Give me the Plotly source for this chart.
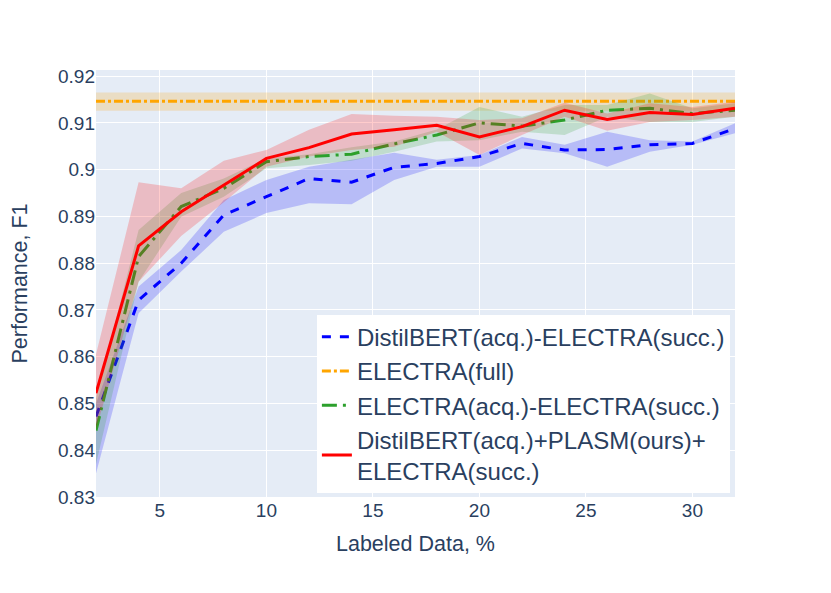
import plotly.graph_objects as go

labeled_pct = [2, 4, 6, 8, 10, 12, 14, 16, 18, 20, 22, 24, 26, 28, 30, 32]

distil_mean = [0.8472, 0.8721, 0.8800, 0.8903, 0.8942, 0.8981, 0.8973, 0.9005,
               0.9013, 0.9028, 0.9056, 0.9042, 0.9043, 0.9053, 0.9056, 0.9088]
distil_upper = [0.8500, 0.8750, 0.8828, 0.8935, 0.8978, 0.9006, 0.9021, 0.9036,
                0.9021, 0.9031, 0.9070, 0.9053, 0.9081, 0.9063, 0.9060, 0.9099]
distil_lower = [0.8350, 0.8693, 0.8782, 0.8867, 0.8907, 0.8928, 0.8926, 0.8978,
                0.9006, 0.9006, 0.9045, 0.9035, 0.9006, 0.9038, 0.9053, 0.9078]

full_x = [2, 32]
full_mean = [0.9146, 0.9146]
full_upper = [0.9165, 0.9165]
full_lower = [0.9126, 0.9126]

electra_mean = [0.8442, 0.8814, 0.8921, 0.8960, 0.9017, 0.9028, 0.9033, 0.9055,
                0.9074, 0.9100, 0.9093, 0.9106, 0.9127, 0.9131, 0.9120, 0.9127]
electra_upper = [0.8510, 0.8871, 0.8950, 0.8981, 0.9024, 0.9033, 0.9048, 0.9060,
                 0.9086, 0.9134, 0.9113, 0.9138, 0.9138, 0.9163, 0.9131, 0.9142]
electra_lower = [0.8370, 0.8760, 0.8899, 0.8942, 0.9003, 0.9010, 0.9019, 0.9038,
                 0.9060, 0.9063, 0.9081, 0.9074, 0.9113, 0.9102, 0.9102, 0.9113]

plasm_mean = [0.8522, 0.8837, 0.8910, 0.8967, 0.9024, 0.9047, 0.9076, 0.9085,
              0.9095, 0.9070, 0.9092, 0.9127, 0.9107, 0.9122, 0.9118, 0.9131]
plasm_upper = [0.8605, 0.8973, 0.8960, 0.9019, 0.9042, 0.9085, 0.9119, 0.9115,
               0.9113, 0.9106, 0.9110, 0.9143, 0.9120, 0.9142, 0.9134, 0.9145]
plasm_lower = [0.8445, 0.8760, 0.8858, 0.8930, 0.9006, 0.9028, 0.9042, 0.9049,
               0.9081, 0.9031, 0.9074, 0.9113, 0.9083, 0.9102, 0.9106, 0.9113]

series = [
    ("DistilBERT(acq.)-ELECTRA(succ.)", labeled_pct, distil_mean, distil_upper, distil_lower,
     "blue", "rgba(0,0,255,0.2)", "dash"),
    ("ELECTRA(full)", full_x, full_mean, full_upper, full_lower,
     "orange", "rgba(255,165,0,0.2)", "dashdot"),
    ("ELECTRA(acq.)-ELECTRA(succ.)", labeled_pct, electra_mean, electra_upper, electra_lower,
     "#2ca02c", "rgba(44,160,44,0.2)", "longdashdot"),
    ("DistilBERT(acq.)+PLASM(ours)+<br>ELECTRA(succ.)", labeled_pct, plasm_mean, plasm_upper, plasm_lower,
     "red", "rgba(255,0,0,0.2)", "solid"),
]

fig = go.Figure()
for name, xs, mean, up, lo, color, fillc, dash in series:
    fig.add_trace(go.Scatter(
        x=list(xs) + list(xs)[::-1], y=list(up) + list(lo)[::-1],
        fill="toself", fillcolor=fillc, line=dict(width=0),
        mode="lines", showlegend=False, hoverinfo="skip"))
    fig.add_trace(go.Scatter(
        x=xs, y=mean, mode="lines", name=name,
        line=dict(color=color, width=3, dash=dash)))

fig.update_layout(
    width=831, height=593,
    margin=dict(l=88, r=104, t=62, b=104),
    font=dict(family="Arial", size=19, color="#2a3f5f"),
    xaxis=dict(title=dict(text="Labeled Data, %", font=dict(size=21.5)),
               range=[2, 32], tickfont=dict(size=19)),
    yaxis=dict(title=dict(text="Performance, F1", font=dict(size=21.5), standoff=24),
               range=[0.83, 0.9213], dtick=0.01, tickfont=dict(size=19)),
    legend=dict(x=0.992, y=0.01, xanchor="right", yanchor="bottom",
                bgcolor="white", font=dict(size=24)),
)

fig.write_html("out.html")
